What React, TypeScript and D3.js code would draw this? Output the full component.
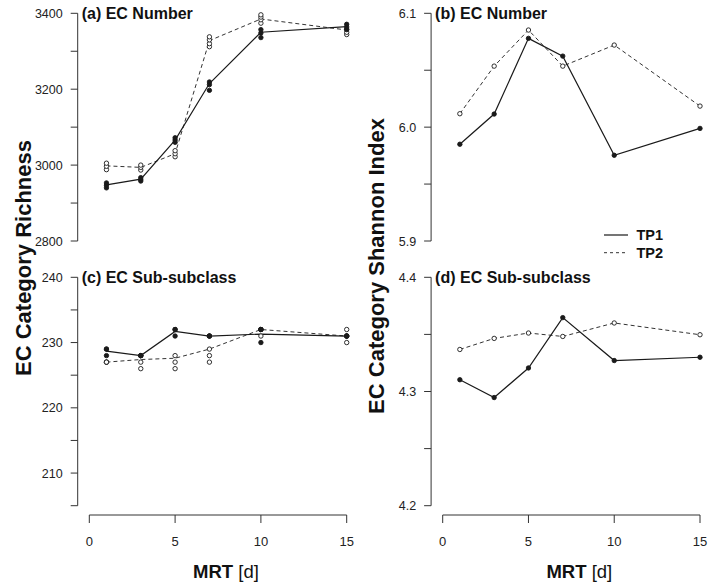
import React from "react";
import * as d3 from "d3";

// Mean retention time (days) sampled
const mrt = [1, 3, 5, 7, 10, 15];
const xTicks = [0, 5, 10, 15];

// (a) EC Number richness: connecting line values and per-replicate values
const ecNumRichTP1 = [2948, 2963, 3066, 3215, 3350, 3365];
const ecNumRichTP2 = [2998, 2994, 3030, 3328, 3385, 3356];
const ecNumRichTP1Reps = [
  [2940, 2947, 2953],
  [2958, 2962, 2967],
  [3060, 3066, 3072],
  [3197, 3212, 3219],
  [3336, 3348, 3357],
  [3358, 3364, 3371],
];
const ecNumRichTP2Reps = [
  [2988, 2997, 3005],
  [2987, 2994, 3000],
  [3022, 3030, 3038],
  [3312, 3320, 3330, 3338],
  [3374, 3383, 3390, 3396],
  [3344, 3350, 3357],
];

// (b) EC Number Shannon index
const ecNumShanTP1 = [5.985, 6.0115, 6.078, 6.0624, 5.9753, 5.9989];
const ecNumShanTP2 = [6.0118, 6.0536, 6.0853, 6.0536, 6.0721, 6.0185];

// (c) EC Sub-subclass richness
const ecSubRichTP1 = [228.7, 228.0, 231.7, 231.0, 231.3, 231.0];
const ecSubRichTP2 = [227.0, 227.4, 227.6, 229.0, 232.0, 231.0];
const ecSubRichTP1Reps = [
  [229, 229, 228],
  [228, 228, 228],
  [232, 232, 231],
  [231, 231, 231],
  [232, 232, 230],
  [231, 231, 231],
];
const ecSubRichTP2Reps = [
  [227, 227, 227],
  [228, 227, 226],
  [228, 227, 226],
  [229, 228, 227],
  [232, 231, 232],
  [232, 231, 230],
];

// (d) EC Sub-subclass Shannon index
const ecSubShanTP1 = [4.3103, 4.2947, 4.3206, 4.3647, 4.3271, 4.33];
const ecSubShanTP2 = [4.3368, 4.3465, 4.3512, 4.3482, 4.36, 4.3497];

// Y axis ticks
const richNumTicks = [2800, 2900, 3000, 3100, 3200, 3300, 3400];
const richNumLabels = [2800, 3000, 3200, 3400];
const shanNumTicks = [5.9, 5.95, 6.0, 6.05, 6.1];
const shanNumLabels = [5.9, 6.0, 6.1];
const richSubTicks = [205, 210, 215, 220, 225, 230, 235, 240];
const richSubLabels = [210, 220, 230, 240];
const shanSubTicks = [4.2, 4.25, 4.3, 4.35, 4.4];
const shanSubLabels = [4.2, 4.3, 4.4];

const legendLabels = ["TP1", "TP2"];

const FONT = "'Liberation Sans', Arial, Helvetica, sans-serif";
const INK = "#1a1a1a";
const AXIS = "#333";

type PanelSpec = {
  title: string;
  x0: number;
  x1: number;
  yTop: number;
  yBot: number;
  domain: [number, number];
  ticks: number[];
  labels: number[];
  fmt: (v: number) => string;
  tp1: number[];
  tp2: number[];
  tp1Reps?: number[][];
  tp2Reps?: number[][];
  xAxis: boolean;
};

function Panel({ p }: { p: PanelSpec }) {
  const x = d3.scaleLinear().domain([0, 15]).range([p.x0, p.x1]);
  const y = d3.scaleLinear().domain(p.domain).range([p.yBot, p.yTop]);
  const axisX = p.x0 - 11.6;
  const line = d3
    .line<number>()
    .x((_, i) => x(mrt[i]))
    .y((v) => y(v));
  const labelSet = new Set(p.labels.map((v) => v.toFixed(3)));

  const repPoints = (reps: number[][] | undefined, filled: boolean) =>
    reps
      ? reps.flatMap((vals, i) =>
          vals.map((v, j) => (
            <circle
              key={`${filled ? "f" : "o"}-${i}-${j}`}
              cx={x(mrt[i])}
              cy={y(v)}
              r={2.2}
              fill={filled ? INK : "#fff"}
              stroke={INK}
              strokeWidth={0.9}
            />
          ))
        )
      : null;

  const meanPoints = (vals: number[], filled: boolean) =>
    vals.map((v, i) => (
      <circle
        key={`${filled ? "mf" : "mo"}-${i}`}
        cx={x(mrt[i])}
        cy={y(v)}
        r={2.2}
        fill={filled ? INK : "#fff"}
        stroke={INK}
        strokeWidth={0.9}
      />
    ));

  return (
    <g>
      {/* y axis */}
      <line
        x1={axisX}
        x2={axisX}
        y1={y(p.ticks[0])}
        y2={y(p.ticks[p.ticks.length - 1])}
        stroke={AXIS}
        strokeWidth={1}
      />
      {p.ticks.map((t) => (
        <line
          key={`t${t}`}
          x1={axisX - 7}
          x2={axisX}
          y1={y(t)}
          y2={y(t)}
          stroke={AXIS}
          strokeWidth={1}
        />
      ))}
      {p.ticks
        .filter((t) => labelSet.has(t.toFixed(3)))
        .map((t) => (
          <text
            key={`l${t}`}
            x={axisX - 15}
            y={y(t)}
            dy="0.36em"
            textAnchor="end"
            fontSize={12.5}
            fill="#222"
            fontFamily={FONT}
          >
            {p.fmt(t)}
          </text>
        ))}
      {/* x axis */}
      {p.xAxis && (
        <g>
          <line x1={x(0)} x2={x(15)} y1={515} y2={515} stroke={AXIS} strokeWidth={1} />
          {xTicks.map((t) => (
            <g key={`xt${t}`}>
              <line x1={x(t)} x2={x(t)} y1={515} y2={523} stroke={AXIS} strokeWidth={1} />
              <text
                x={x(t)}
                y={546}
                textAnchor="middle"
                fontSize={13}
                fill="#222"
                fontFamily={FONT}
              >
                {t}
              </text>
            </g>
          ))}
          <text
            x={(x(0) + x(15)) / 2 + 8}
            y={578}
            textAnchor="middle"
            fontSize={18.5}
            fill="#111"
            fontFamily={FONT}
          >
            <tspan fontWeight="bold">MRT</tspan>
            <tspan> [d]</tspan>
          </text>
        </g>
      )}
      {/* panel title */}
      <text
        x={axisX + 4}
        y={p.yTop + 6}
        fontSize={16}
        fontWeight="bold"
        fill="#111"
        fontFamily={FONT}
      >
        {p.title}
      </text>
      {/* series lines */}
      <path d={line(p.tp2) || ""} fill="none" stroke="#333" strokeWidth={1} strokeDasharray="4,3" />
      <path d={line(p.tp1) || ""} fill="none" stroke={INK} strokeWidth={1.2} />
      {p.tp2Reps ? repPoints(p.tp2Reps, false) : meanPoints(p.tp2, false)}
      {p.tp1Reps ? repPoints(p.tp1Reps, true) : meanPoints(p.tp1, true)}
    </g>
  );
}

export default function App() {
  const fmt0 = (v: number) => d3.format("d")(v);
  const fmt1 = (v: number) => d3.format(".1f")(v);
  const LX0 = 89.3;
  const LX1 = 346.7;
  const RX0 = 442.7;
  const RX1 = 700;

  const panels: PanelSpec[] = [
    {
      title: "(a) EC Number",
      x0: LX0, x1: LX1, yTop: 13.3, yBot: 241,
      domain: [2800, 3400], ticks: richNumTicks, labels: richNumLabels, fmt: fmt0,
      tp1: ecNumRichTP1, tp2: ecNumRichTP2, tp1Reps: ecNumRichTP1Reps, tp2Reps: ecNumRichTP2Reps,
      xAxis: false,
    },
    {
      title: "(b) EC Number",
      x0: RX0, x1: RX1, yTop: 13.3, yBot: 241,
      domain: [5.9, 6.1], ticks: shanNumTicks, labels: shanNumLabels, fmt: fmt1,
      tp1: ecNumShanTP1, tp2: ecNumShanTP2,
      xAxis: false,
    },
    {
      title: "(c) EC Sub-subclass",
      x0: LX0, x1: LX1, yTop: 277.3, yBot: 505.7,
      domain: [205, 240], ticks: richSubTicks, labels: richSubLabels, fmt: fmt0,
      tp1: ecSubRichTP1, tp2: ecSubRichTP2, tp1Reps: ecSubRichTP1Reps, tp2Reps: ecSubRichTP2Reps,
      xAxis: true,
    },
    {
      title: "(d) EC Sub-subclass",
      x0: RX0, x1: RX1, yTop: 277.3, yBot: 505.7,
      domain: [4.2, 4.4], ticks: shanSubTicks, labels: shanSubLabels, fmt: fmt1,
      tp1: ecSubShanTP1, tp2: ecSubShanTP2,
      xAxis: true,
    },
  ];

  return (
    <svg
      width={710}
      height={585}
      style={{ position: "absolute", left: 0, top: 0, background: "#fff" }}
    >
      <rect width={710} height={585} fill="#fff" />
      {panels.map((p) => (
        <Panel key={p.title + p.x0} p={p} />
      ))}
      {/* y axis titles */}
      <text
        transform="translate(31,258) rotate(-90)"
        textAnchor="middle"
        fontSize={22}
        fontWeight="bold"
        fill="#111"
        fontFamily={FONT}
      >
        EC Category Richness
      </text>
      <text
        transform="translate(384,266) rotate(-90)"
        textAnchor="middle"
        fontSize={22}
        fontWeight="bold"
        fill="#111"
        fontFamily={FONT}
      >
        EC Category Shannon Index
      </text>
      {/* legend */}
      <g fontFamily={FONT}>
        <line x1={604} x2={628} y1={235} y2={235} stroke={INK} strokeWidth={1.2} />
        <line x1={604} x2={628} y1={252.7} y2={252.7} stroke="#333" strokeWidth={1} strokeDasharray="3,3" />
        {legendLabels.map((l, i) => (
          <text
            key={l}
            x={636.5}
            y={235 + i * 17.7}
            dy="0.36em"
            fontSize={14.5}
            fontWeight="bold"
            fill="#111"
          >
            {l}
          </text>
        ))}
      </g>
    </svg>
  );
}
